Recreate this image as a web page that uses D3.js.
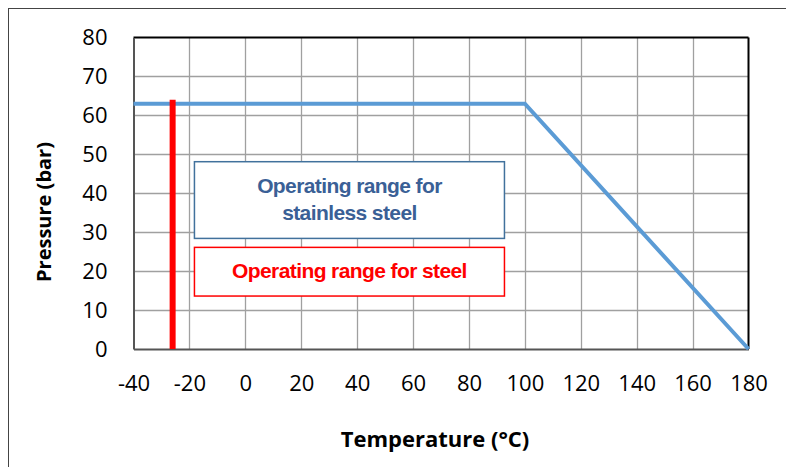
<!doctype html>
<html lang="en">
  <head>
    <meta charset="utf-8">
    <title>Operating range</title>
    <script src="https://d3js.org/d3.v7.min.js"></script>
    <style>
      body { margin: 0; background: #fff; }
      .tick text { font-family: 'Open Sans', sans-serif; font-size: 22px; fill: #000; }
    </style>
  </head>

  <body>
    <svg width="786" height="467"></svg>
    <script>
      // x ticks / y ticks
      var tempTicks = [-40, -20, 0, 20, 40, 60, 80, 100, 120, 140, 160, 180];
      var pressTicks = [0, 10, 20, 30, 40, 50, 60, 70, 80];

      // stainless steel limit curve
      var stainlessTemp = [-40, 100, 180];
      var stainlessPress = [63, 63, 0];

      // steel: minimum temperature line
      var steelTemp = [-26, -26];
      var steelPress = [0, 64];

      var labelStainless = ['Operating range for', 'stainless steel'];
      var labelSteel = 'Operating range for steel';

      var svg = d3.select('svg');

      // outer chart frame (runs off the picture on the right and bottom)
      svg.append('rect')
        .attr('x', 8.5).attr('y', 8.5)
        .attr('width', 800).attr('height', 500)
        .style('fill', 'none').style('stroke', '#444').style('stroke-width', 1);

      var pLeft = 133.5, pRight = 748.5, pTop = 37.5, pBottom = 349;

      var x = d3.scaleLinear().domain([-40, 180]).range([pLeft, pRight]);
      var y = d3.scaleLinear().domain([0, 80]).range([pBottom, pTop]);

      // grid
      svg.append('g').selectAll('line')
        .data(tempTicks.slice(1, -1))
        .enter().append('line')
          .attr('x1', function(d){ return Math.round(x(d)) + 0.5; })
          .attr('x2', function(d){ return Math.round(x(d)) + 0.5; })
          .attr('y1', pTop).attr('y2', pBottom)
          .style('stroke', '#a0a0a0').style('stroke-width', 1.3);

      svg.append('g').selectAll('line')
        .data(pressTicks.slice(1, -1))
        .enter().append('line')
          .attr('y1', function(d){ return Math.round(y(d)) + 0.5; })
          .attr('y2', function(d){ return Math.round(y(d)) + 0.5; })
          .attr('x1', pLeft).attr('x2', pRight)
          .style('stroke', '#a0a0a0').style('stroke-width', 1.3);

      // plot border: top/right black, left/bottom axis grey
      svg.append('line').attr('x1', pLeft).attr('x2', pRight).attr('y1', pTop).attr('y2', pTop)
        .style('stroke', '#000').style('stroke-width', 2);
      svg.append('line').attr('x1', pRight).attr('x2', pRight).attr('y1', pTop).attr('y2', pBottom)
        .style('stroke', '#000').style('stroke-width', 2);

      var fmt = function(d){ return String(d); };
      var xAxis = svg.append('g')
        .attr('transform', 'translate(0,' + pBottom + ')')
        .call(d3.axisBottom(x).tickValues(tempTicks).tickFormat(fmt).tickSize(0).tickPadding(26));
      var yAxis = svg.append('g')
        .attr('transform', 'translate(' + pLeft + ',0)')
        .call(d3.axisLeft(y).tickValues(pressTicks).tickFormat(fmt).tickSize(0).tickPadding(26));

      [xAxis, yAxis].forEach(function(g){
        g.select('.domain').style('stroke', '#555').style('stroke-width', 2);
      });

      // annotation boxes
      function box(t0, t1, p0, p1, color){
        svg.append('rect')
          .attr('x', x(t0)).attr('y', y(p1))
          .attr('width', x(t1) - x(t0)).attr('height', y(p0) - y(p1))
          .style('fill', '#fff').style('stroke', color).style('stroke-width', 1.5);
      }
      box(-18.2, 92.7, 28.4, 48.1, '#41719c');
      box(-18.2, 92.7, 13.6, 26.1, '#ff0000');

      var boxFont = "'Liberation Sans', Arial, sans-serif";
      svg.append('text')
        .attr('x', x(37.25)).attr('y', 193)
        .attr('text-anchor', 'middle')
        .style('font-family', boxFont).style('font-weight', 'bold')
        .style('font-size', '21px').style('letter-spacing', '-0.6px').style('fill', '#3a6096')
        .selectAll('tspan')
        .data(labelStainless)
        .enter().append('tspan')
          .attr('x', x(37.25))
          .attr('dy', function(d, i){ return i ? 27 : 0; })
          .text(function(d){ return d; });

      svg.append('text')
        .attr('x', x(37.25)).attr('y', 278)
        .attr('text-anchor', 'middle')
        .style('font-family', boxFont).style('font-weight', 'bold')
        .style('font-size', '21px').style('letter-spacing', '-0.6px').style('fill', '#ff0000')
        .text(labelSteel);

      var line = d3.line()
        .x(function(d){ return x(d[0]); })
        .y(function(d){ return y(d[1]); });

      svg.append('path')
        .datum(d3.zip(stainlessTemp, stainlessPress))
        .attr('d', line)
        .style('fill', 'none').style('stroke', '#5b9bd5').style('stroke-width', 4);

      svg.append('path')
        .datum(d3.zip(steelTemp, steelPress))
        .attr('d', line)
        .style('fill', 'none').style('stroke', '#ff0000').style('stroke-width', 6);

      // axis titles
      svg.append('text')
        .attr('x', 435).attr('y', 447)
        .attr('text-anchor', 'middle')
        .style('font-family', "'Open Sans', sans-serif").style('font-weight', 'bold')
        .style('font-size', '22px')
        .text('Temperature (°C)');

      svg.append('text')
        .attr('transform', 'translate(51,212) rotate(-90)')
        .attr('text-anchor', 'middle')
        .style('font-family', "'Open Sans', sans-serif").style('font-weight', 'bold')
        .style('font-size', '20px')
        .text('Pressure (bar)');
    </script>
  </body>
</html>
